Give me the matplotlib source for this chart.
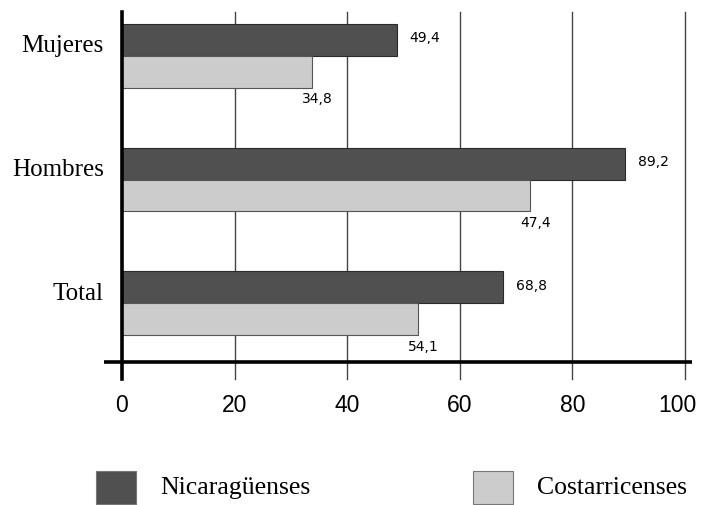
import matplotlib
matplotlib.use("Agg")
import matplotlib.pyplot as plt
from matplotlib.patches import Rectangle
from matplotlib.transforms import ScaledTranslation
import numpy as np

# data (bar lengths and printed labels differ in the source)
categories = ["Mujeres", "Hombres", "Total"]
series = ["Nicaragüenses", "Costarricenses"]
nica_values = [48.8, 89.4, 67.7]
costa_values = [33.7, 72.4, 52.5]
nica_labels = ["49,4", "89,2", "68,8"]
costa_labels = ["34,8", "47,4", "54,1"]
x_ticks = [0, 20, 40, 60, 80, 100]

NICA_COLOR = "#505050"
COSTA_COLOR = "#cccccc"
SERIF = ["Liberation Serif", "DejaVu Serif"]
SANS = ["Liberation Sans", "DejaVu Sans"]

fig = plt.figure(figsize=(7.01, 5.05), dpi=100)
ax = fig.add_axes([122 / 701, 126 / 505, (685 - 122) / 701, (493 - 126) / 505])

pos = np.arange(len(categories))[::-1]
h = 0.258
ax.barh(pos + h / 2, nica_values, height=h, color=NICA_COLOR,
        edgecolor="#2a2a2a", lw=0.8, zorder=3)
ax.barh(pos - h / 2, costa_values, height=h, color=COSTA_COLOR,
        edgecolor="#555555", lw=0.8, zorder=3)

for p, v, lab in zip(pos, nica_values, nica_labels):
    ax.annotate(lab, xy=(v, p + h / 2), xytext=(9, 1), textcoords="offset points",
                ha="left", va="center", fontsize=10, family="DejaVu Sans")
for p, v, lab in zip(pos, costa_values, costa_labels):
    ax.annotate(lab, xy=(v, p - h / 2), xytext=(4, -20), textcoords="offset points",
                ha="center", va="center", fontsize=10, family="DejaVu Sans")

ax.set_xlim(0, 100)
ax.set_ylim(-0.610, 2.352)

for x in x_ticks[1:]:
    ax.axvline(x, color="#444444", lw=1.0, zorder=1, clip_on=False)

# baseline that sticks out past the plot area on both sides
ax.plot([-3.2, 101.2], [-0.473, -0.473], color="black", lw=2.6,
        clip_on=False, zorder=4, solid_capstyle="butt")

for side in ["top", "right", "bottom"]:
    ax.spines[side].set_visible(False)
ax.spines["left"].set_linewidth(2.6)
ax.spines["left"].set_zorder(5)

ax.set_xticks(x_ticks)
ax.set_xticklabels([str(t) for t in x_ticks], fontsize=16.5, family=SANS)
ax.tick_params(axis="x", length=0, pad=11)
# last label sits a bit left of its gridline in the reference, keep it inside
last = ax.get_xticklabels()[-1]
last.set_transform(last.get_transform() + ScaledTranslation(-8 / 100, 0, fig.dpi_scale_trans))
ax.set_yticks(pos + 0.1)
ax.set_yticklabels(categories, fontsize=18, family=SERIF)
ax.tick_params(axis="y", length=0, pad=13)

# legend drawn by hand, boxes and text in figure pixels
for (bx, tx), name, col in zip([(96, 160), (473, 537)], series, [NICA_COLOR, COSTA_COLOR]):
    fig.patches.append(Rectangle((bx / 701, 1 / 505), 40 / 701, 33 / 505,
                                 transform=fig.transFigure, facecolor=col,
                                 edgecolor="#777777", lw=0.8))
    fig.text(tx / 701, 17 / 505, name, fontsize=18.5, family=SERIF,
             ha="left", va="center")

fig.savefig("out.png", dpi=100)
plt.close(fig)
